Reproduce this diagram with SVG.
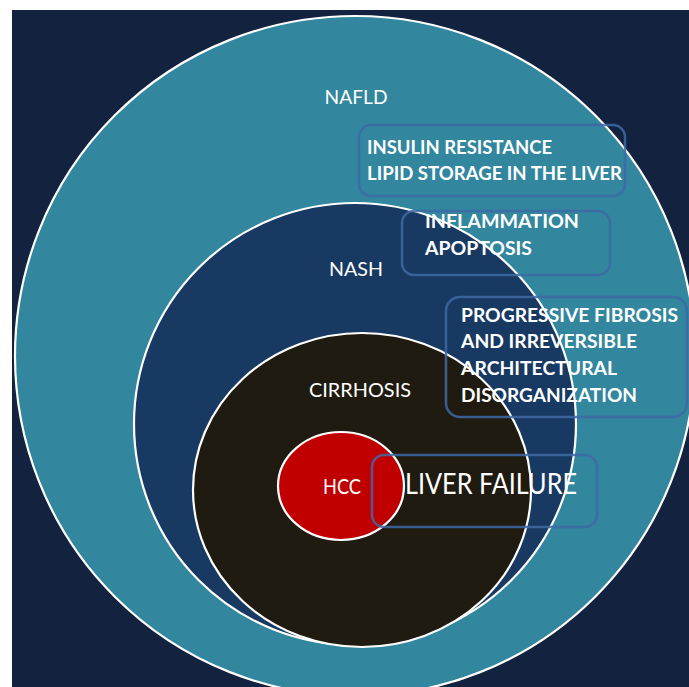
<svg xmlns="http://www.w3.org/2000/svg" width="689" height="687" viewBox="0 0 689 687">
<style>
.ring{stroke:#ffffff;stroke-width:2.2}
.lbl{font-family:Lato,"Open Sans","Liberation Sans",sans-serif;fill:#ffffff;font-size:19px}
.big{font-size:28px}
.hcc{font-size:21px}
.bt{font-family:Lato,"Open Sans","Liberation Sans",sans-serif;fill:#ffffff;font-size:18.5px;font-weight:bold}
.box{fill:none;stroke:#4068a6;stroke-opacity:0.85;stroke-width:2.5}
</style>
<rect x="0" y="0" width="689" height="687" fill="#ffffff"/>
<rect x="12" y="10" width="677" height="677" fill="#12223f"/>
<g id="nafld">
<circle class="ring" cx="355" cy="356" r="340" fill="#32869e"/>
<text class="lbl" x="356" y="104" text-anchor="middle" textLength="63" lengthAdjust="spacingAndGlyphs">NAFLD</text>
</g>
<g id="nash">
<circle class="ring" cx="355" cy="424" r="221" fill="#183962"/>
<text class="lbl" x="329" y="276" textLength="54" lengthAdjust="spacingAndGlyphs">NASH</text>
</g>
<g id="cirrhosis">
<ellipse class="ring" cx="362" cy="490" rx="169" ry="157" fill="#1f1b10"/>
<text class="lbl" x="309" y="397" textLength="102" lengthAdjust="spacingAndGlyphs">CIRRHOSIS</text>
</g>
<g id="hcc">
<ellipse class="ring" cx="341" cy="486" rx="63" ry="54" fill="#c00000"/>
<text class="lbl hcc" x="323" y="494" textLength="38" lengthAdjust="spacingAndGlyphs">HCC</text>
</g>
<g id="box-insulin">
<rect class="box" x="359" y="125" width="266" height="71" rx="12"/>
<text class="bt" x="367" y="154" textLength="185" lengthAdjust="spacingAndGlyphs">INSULIN RESISTANCE</text>
<text class="bt" x="367" y="180" textLength="255" lengthAdjust="spacingAndGlyphs">LIPID STORAGE IN THE LIVER</text>
</g>
<g id="box-inflammation">
<rect class="box" x="402" y="211" width="208" height="64" rx="12"/>
<text class="bt" x="425" y="228" textLength="154" lengthAdjust="spacingAndGlyphs">INFLAMMATION</text>
<text class="bt" x="425" y="255" textLength="107" lengthAdjust="spacingAndGlyphs">APOPTOSIS</text>
</g>
<g id="box-fibrosis">
<rect class="box" x="446" y="297" width="241" height="120" rx="14"/>
<text class="bt" x="461" y="322" textLength="217" lengthAdjust="spacingAndGlyphs">PROGRESSIVE FIBROSIS</text>
<text class="bt" x="461" y="348" textLength="176" lengthAdjust="spacingAndGlyphs">AND IRREVERSIBLE</text>
<text class="bt" x="461" y="375" textLength="156" lengthAdjust="spacingAndGlyphs">ARCHITECTURAL</text>
<text class="bt" x="461" y="402" textLength="176" lengthAdjust="spacingAndGlyphs">DISORGANIZATION</text>
</g>
<g id="box-liver-failure">
<rect class="box" x="372" y="455" width="225" height="72" rx="12"/>
<text class="lbl big" x="405" y="494" textLength="172" lengthAdjust="spacingAndGlyphs">LIVER FAILURE</text>
</g>
</svg>
